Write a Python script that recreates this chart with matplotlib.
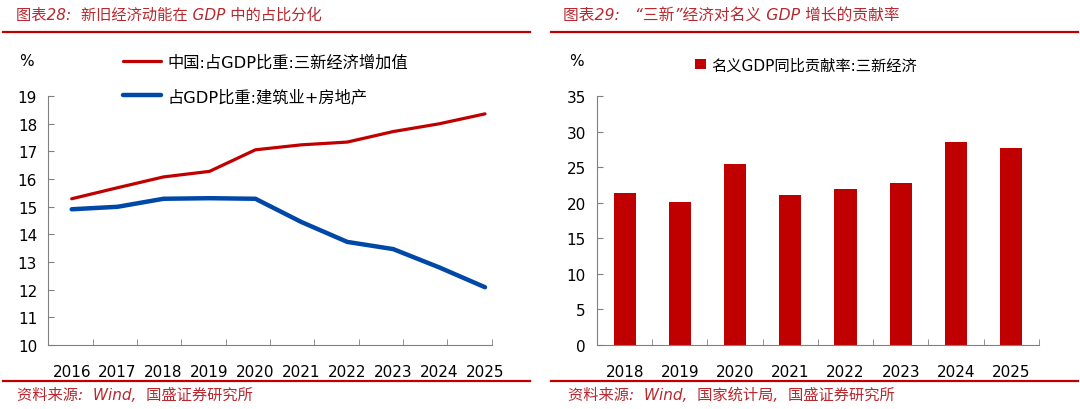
import matplotlib
matplotlib.use("Agg")
import numpy as np
import matplotlib.pyplot as plt
from matplotlib.lines import Line2D

plt.rcParams['font.family'] = ['DejaVu Sans', 'Noto Sans CJK SC']

# left chart data
years_l = ['2016', '2017', '2018', '2019', '2020', '2021', '2022', '2023', '2024', '2025']
new_econ = [15.29, 15.69, 16.08, 16.28, 17.06, 17.24, 17.34, 17.72, 18.0, 18.36]
construct_re = [14.91, 15.0, 15.29, 15.31, 15.29, 14.45, 13.73, 13.47, 12.81, 12.09]

# right chart data
years_r = ['2018', '2019', '2020', '2021', '2022', '2023', '2024', '2025']
contrib = [21.45, 20.1, 25.53, 21.08, 21.88, 22.72, 28.58, 27.74]

RED = '#C00000'
BLUE = '#0048A8'
TITLE_RED = '#B8282E'
GRAY = '#808080'

fig = plt.figure(figsize=(10.8, 4.1), dpi=100)


def style_axes(ax):
    for s in ['top', 'right']:
        ax.spines[s].set_visible(False)
    for s in ['left', 'bottom']:
        ax.spines[s].set_color(GRAY)
        ax.spines[s].set_linewidth(0.8)
    ax.tick_params(axis='y', direction='in', length=4, color=GRAY, labelsize=11, pad=8)
    ax.tick_params(axis='x', which='major', length=0, labelsize=11, pad=14)
    ax.tick_params(axis='x', which='minor', direction='in', length=4, color=GRAY)


# ---- left chart ----
ax1 = fig.add_axes([0.0447, 0.156, 0.4106, 0.607])
x = np.arange(len(years_l))
ax1.plot(x, new_econ, color=RED, lw=2.3, solid_capstyle='round', label='中国:占GDP比重:三新经济增加值')
ax1.plot(x, construct_re, color=BLUE, lw=3.2, solid_capstyle='round', label='占GDP比重:建筑业+房地产')
ax1.set_ylim(10, 19)
ax1.set_yticks(range(10, 20))
x0, x1 = -0.51, 9.146
ax1.set_xlim(x0, x1)
ax1.set_xticks(x)
ax1.set_xticklabels(years_l)
ax1.set_xticks(np.linspace(x0, x1, 11)[1:], minor=True)
style_axes(ax1)
ax1.legend(loc='upper left', bbox_to_anchor=(0.154, 1.197), frameon=False, fontsize=11.7,
           handlelength=2.35, labelspacing=1.17, handletextpad=0.4, borderaxespad=0)

# ---- right chart ----
ax2 = fig.add_axes([0.5528, 0.156, 0.409, 0.607])
xr = np.arange(len(years_r))
ax2.bar(xr, contrib, width=0.4, color=RED, label='名义GDP同比贡献率:三新经济')
ax2.set_ylim(0, 35)
ax2.set_yticks(range(0, 36, 5))
ax2.set_xlim(-0.5, len(years_r) - 0.5)
ax2.set_xticks(xr)
ax2.set_xticklabels(years_r)
ax2.set_xticks(np.arange(0.5, len(years_r), 1.0), minor=True)
style_axes(ax2)
ax2.legend(loc='upper left', bbox_to_anchor=(0.208, 1.18), frameon=False, fontsize=11,
           handlelength=0.7, handleheight=0.7, handletextpad=0.35, borderaxespad=0)

# percent markers
fig.text(26 / 1080, 1 - 62 / 410, '%', fontsize=11, ha='center', va='center')
fig.text(576 / 1080, 1 - 62 / 410, '%', fontsize=11, ha='center', va='center')

# titles
fig.text(16 / 1080, 1 - 15 / 410, '图表28:  新旧经济动能在 GDP 中的占比分化', color=TITLE_RED,
         fontsize=11, style='italic', va='center')
fig.text(563 / 1080, 1 - 15 / 410, '图表29:   “三新”经济对名义 GDP 增长的贡献率', color=TITLE_RED,
         fontsize=11.3, style='italic', va='center')

# sources
fig.text(17 / 1080, 1 - 395 / 410, '资料来源:  Wind,  国盛证券研究所', color=TITLE_RED,
         fontsize=11, style='italic', va='center')
fig.text(568 / 1080, 1 - 395 / 410, '资料来源:  Wind,  国家统计局,  国盛证券研究所', color=TITLE_RED,
         fontsize=11, style='italic', va='center')

# red rule lines
for (xa, xb) in [(3, 530), (551, 1078)]:
    for yy in [33, 382]:
        fig.add_artist(Line2D([xa / 1080, xb / 1080], [1 - yy / 410, 1 - yy / 410],
                              color=RED, lw=1.6, transform=fig.transFigure))

fig.savefig('out.png', dpi=100)
